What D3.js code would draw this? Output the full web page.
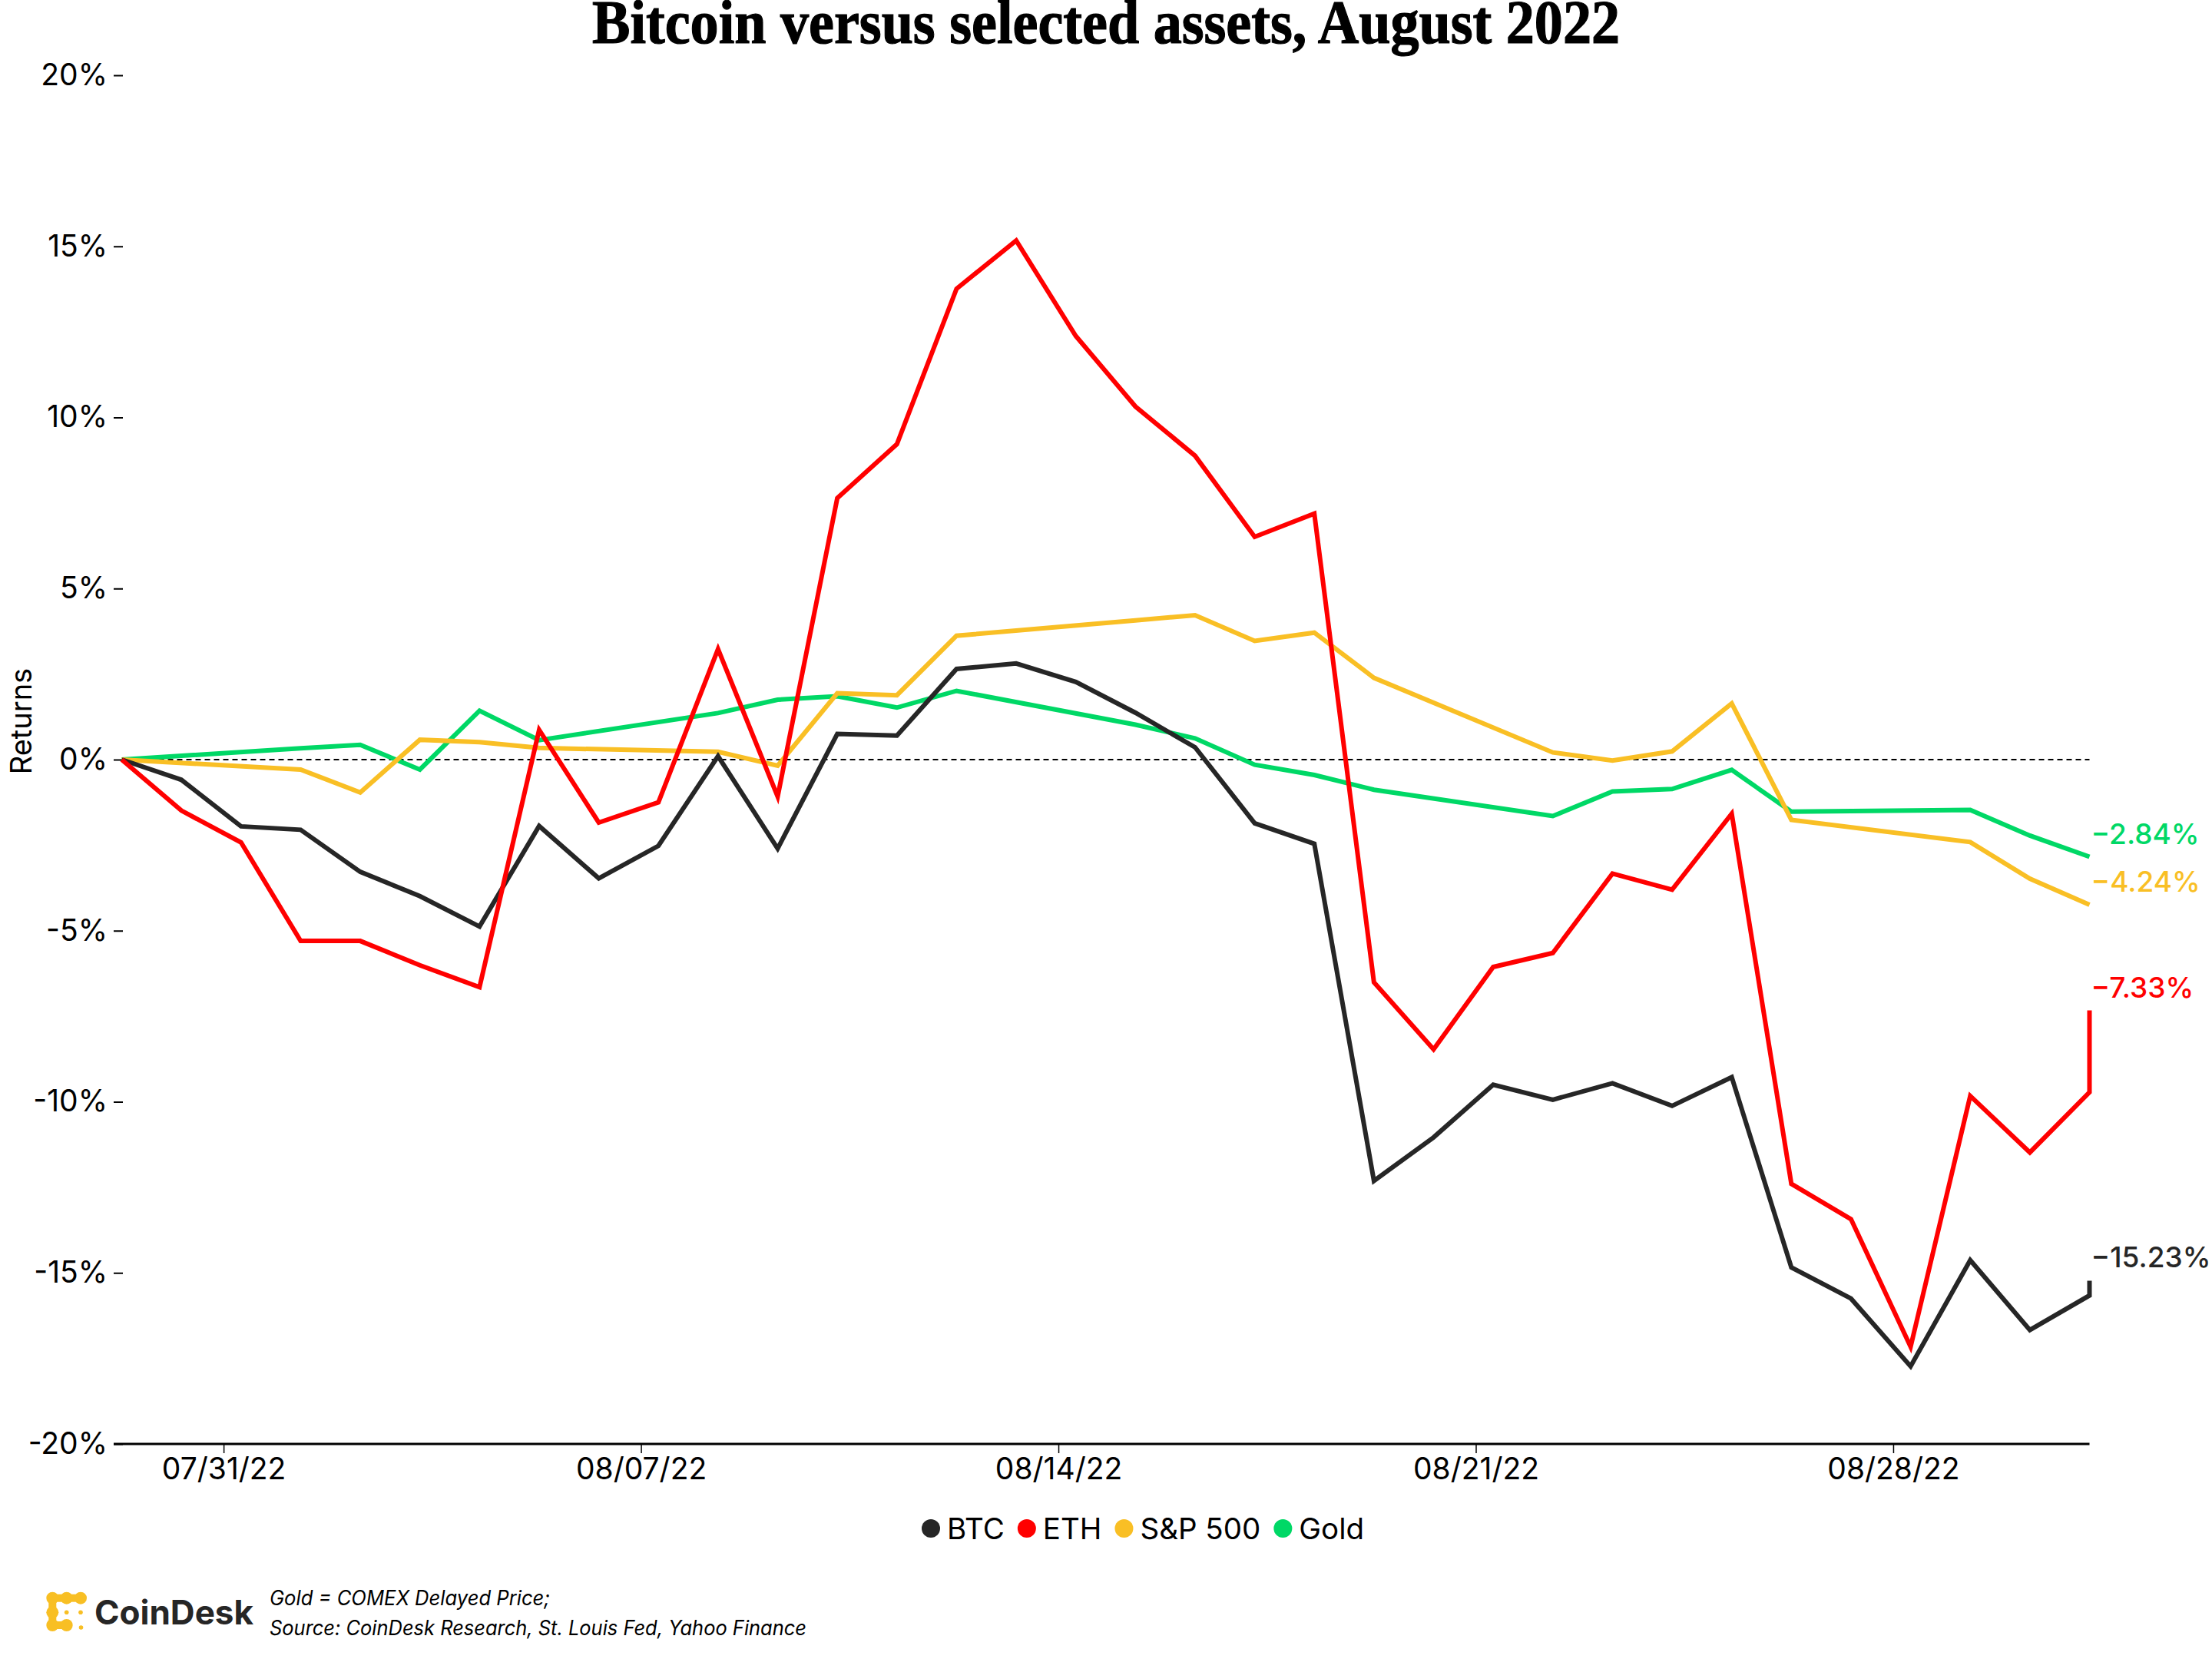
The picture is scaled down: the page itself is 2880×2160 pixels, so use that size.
<!DOCTYPE html>
<html><head><meta charset="utf-8">
<script src="https://cdn.jsdelivr.net/npm/d3@7"></script>
<style>html,body{margin:0;padding:0;background:#fff;} svg{display:block;}</style>
</head><body>
<svg id="chart" width="2880" height="2160"></svg>
<script>
// ---- data (returns in %, relative to 07/29/22) ----
const dates = ["2022-07-29","2022-07-30","2022-07-31","2022-08-01","2022-08-02","2022-08-03","2022-08-04",
  "2022-08-05","2022-08-06","2022-08-07","2022-08-08","2022-08-09","2022-08-10","2022-08-11","2022-08-12",
  "2022-08-13","2022-08-14","2022-08-15","2022-08-16","2022-08-17","2022-08-18","2022-08-19","2022-08-20",
  "2022-08-21","2022-08-22","2022-08-23","2022-08-24","2022-08-25","2022-08-26","2022-08-27","2022-08-28",
  "2022-08-29","2022-08-30","2022-08-31","2022-08-31"]; // last entry = latest intraday reading
const btc  = [0,-0.59,-1.95,-2.05,-3.28,-3.99,-4.88,-1.94,-3.47,-2.52,0.10,-2.60,0.75,0.70,2.65,2.81,2.27,1.37,0.36,
  -1.86,-2.46,-12.31,-11.04,-9.50,-9.94,-9.46,-10.12,-9.28,-14.84,-15.75,-17.73,-14.63,-16.67,-15.66,-15.23];
const eth  = [0,-1.49,-2.42,-5.30,-5.30,-6.01,-6.65,0.87,-1.84,-1.25,3.23,-1.08,7.64,9.22,13.76,15.17,12.38,10.32,8.88,
  6.51,7.19,-6.51,-8.47,-6.06,-5.65,-3.33,-3.80,-1.58,-12.40,-13.43,-17.16,-9.83,-11.48,-9.72,-7.33];
const spx  = [0,null,null,-0.29,-0.96,0.58,0.51,0.34,null,null,0.23,-0.18,1.94,1.88,3.62,null,null,4.07,4.22,
  3.47,3.71,2.39,null,null,0.21,-0.03,0.24,1.64,-1.76,null,null,-2.41,-3.48,-4.24,null];
const gold = [0,null,null,0.33,0.43,-0.29,1.43,0.57,null,null,1.36,1.75,1.85,1.52,2.01,null,null,1.02,0.62,
  -0.15,-0.45,-0.88,null,null,-1.65,-0.93,-0.86,-0.30,-1.52,null,null,-1.47,-2.22,-2.84,null];

const seriesNames  = ["BTC","ETH","S&P 500","Gold"];
const seriesValues = [btc, eth, spx, gold];
const seriesColors = ["#262626","#ff0000","#f9bf25","#00d866"];
const endLabels    = ["\u221215.23%","\u22127.33%","\u22124.24%","\u22122.84%"];
const drawOrder    = [3,2,0,1]; // Gold, S&P, BTC, ETH on top

const yTicks = [20,15,10,5,0,-5,-10,-15,-20];
const xTickDates  = ["2022-07-31","2022-08-07","2022-08-14","2022-08-21","2022-08-28"];
const xTickLabels = ["07/31/22","08/07/22","08/14/22","08/21/22","08/28/22"];

const chartTitle = "Bitcoin versus selected assets, August 2022";
const yTitle = "Returns";
const footLines = ["Gold = COMEX Delayed Price;","Source: CoinDesk Research, St. Louis Fed, Yahoo Finance"];

(function draw() {
// ---- layout ----
const svg = d3.select("#chart");
const W = 2880, H = 2160;
const mLeft = 158.5, mRight = 2720.5, mTop = 98, mBottom = 1880;
const FONT = "Inter, 'Liberation Sans', Arial, sans-serif";
svg.append("rect").attr("width", W).attr("height", H).attr("fill", "#fff");

const parse = d3.utcParse("%Y-%m-%d");
const obsHour = 7; // observations are stamped at 07:00
const toTime = s => d3.utcHour.offset(parse(s), obsHour);
const times = dates.map(toTime);

const x = d3.scaleUtc().domain([times[0], times[times.length-1]]).range([mLeft, mRight]);
const y = d3.scaleLinear().domain([-20, 20]).range([mBottom, mTop]);

// title
svg.append("text").attr("x", W/2).attr("y", 56).attr("text-anchor", "middle")
  .attr("font-family", "'Liberation Serif', 'DejaVu Serif', serif").attr("font-weight", "bold")
  .attr("font-size", 80).attr("textLength", 1338).attr("lengthAdjust", "spacingAndGlyphs")
  .attr("stroke", "#000").attr("stroke-width", 1.2)
  .attr("fill", "#000").text(chartTitle);

// y axis
const yAxis = svg.append("g").attr("transform", `translate(${mLeft + 1.5},0)`)
  .call(d3.axisLeft(y).tickValues(yTicks).tickSize(12).tickPadding(8).tickFormat(d => d + "%"));
yAxis.select(".domain").remove();
yAxis.selectAll(".tick line").attr("stroke", "#000").attr("stroke-width", 2);
yAxis.selectAll(".tick text").attr("font-family", FONT).attr("font-size", 39).attr("fill", "#000");

svg.append("text").attr("transform", `translate(41,939) rotate(-90)`).attr("text-anchor", "middle")
  .attr("font-family", FONT).attr("font-size", 38).attr("fill", "#000").text(yTitle);

// x axis
const xAxis = svg.append("g").attr("transform", `translate(0,${mBottom})`)
  .call(d3.axisBottom(x).tickValues(xTickDates.map(d => parse(d))).tickSize(12).tickPadding(6)
    .tickFormat((d, i) => xTickLabels[i]));
xAxis.select(".domain").remove();
xAxis.selectAll(".tick line").attr("stroke", "#000").attr("stroke-width", 1.5);
xAxis.selectAll(".tick text").attr("font-family", FONT).attr("font-size", 39).attr("fill", "#000");
svg.append("line").attr("x1", mLeft - 10.5).attr("x2", mRight).attr("y1", y(-20)).attr("y2", y(-20))
  .attr("stroke", "#000").attr("stroke-width", 3);

// zero reference
svg.append("line").attr("x1", mLeft).attr("x2", mRight).attr("y1", y(0)).attr("y2", y(0))
  .attr("stroke", "#000").attr("stroke-width", 2).attr("stroke-dasharray", "7,5");

// series lines
const line = d3.line().x(d => x(d.t)).y(d => y(d.v));
drawOrder.forEach(si => {
  const pts = seriesValues[si].map((v, i) => ({t: times[i], v})).filter(d => d.v !== null);
  svg.append("path").datum(pts).attr("d", line).attr("fill", "none")
    .attr("stroke", seriesColors[si]).attr("stroke-width", 6).attr("stroke-linejoin", "miter");
  const last = pts[pts.length - 1];
  svg.append("text").attr("x", x(last.t) + 2).attr("y", y(last.v) - 17)
    .attr("font-family", FONT).attr("font-size", 37).attr("font-weight", 500)
    .attr("fill", seriesColors[si]).text(endLabels[si]);
});

// legend
const lg = svg.append("g").attr("transform", "translate(1200,1990)");
let lx = 0;
seriesNames.forEach((name, i) => {
  lg.append("circle").attr("cx", lx + 12).attr("cy", 0).attr("r", 12).attr("fill", seriesColors[i]);
  const t = lg.append("text").attr("x", lx + 33).attr("y", 14).attr("font-family", FONT)
    .attr("font-size", 38.5).attr("fill", "#000").text(name);
  lx += 33 + t.node().getComputedTextLength() + 17;
});

// footer logo
const logo = svg.append("g");
const yel = "#f8bf24";
const blobs = [[68.3,2080.7],[86.7,2080.7],[105,2080.7],[68.3,2099.3],[68.3,2116],[86.7,2116]];
const links = [[0,1],[1,2],[0,3],[3,4],[4,5]];
links.forEach(([a,b]) => logo.append("line").attr("x1", blobs[a][0]).attr("y1", blobs[a][1])
  .attr("x2", blobs[b][0]).attr("y2", blobs[b][1]).attr("stroke", yel).attr("stroke-width", 10));
blobs.forEach(([cx,cy]) => logo.append("circle").attr("cx", cx).attr("cy", cy).attr("r", 8).attr("fill", yel));
[[86.7,2099.3],[105,2099.3],[105.5,2119]].forEach(([cx,cy]) =>
  logo.append("circle").attr("cx", cx).attr("cy", cy).attr("r", 2.8).attr("fill", yel));
logo.append("text").attr("x", 123).attr("y", 2115).attr("font-family", FONT).attr("font-weight", "bold")
  .attr("font-size", 44).attr("fill", "#262626").text("CoinDesk");

svg.append("text").attr("x", 351).attr("y", 2090).attr("font-family", FONT).attr("font-style", "italic")
  .attr("font-size", 27).attr("textLength", 365).attr("lengthAdjust", "spacingAndGlyphs")
  .attr("fill", "#000").text(footLines[0]);
svg.append("text").attr("x", 351).attr("y", 2129).attr("font-family", FONT).attr("font-style", "italic")
  .attr("font-size", 27).attr("textLength", 699).attr("lengthAdjust", "spacingAndGlyphs")
  .attr("fill", "#000").text(footLines[1]);
})();
</script>
</body></html>
